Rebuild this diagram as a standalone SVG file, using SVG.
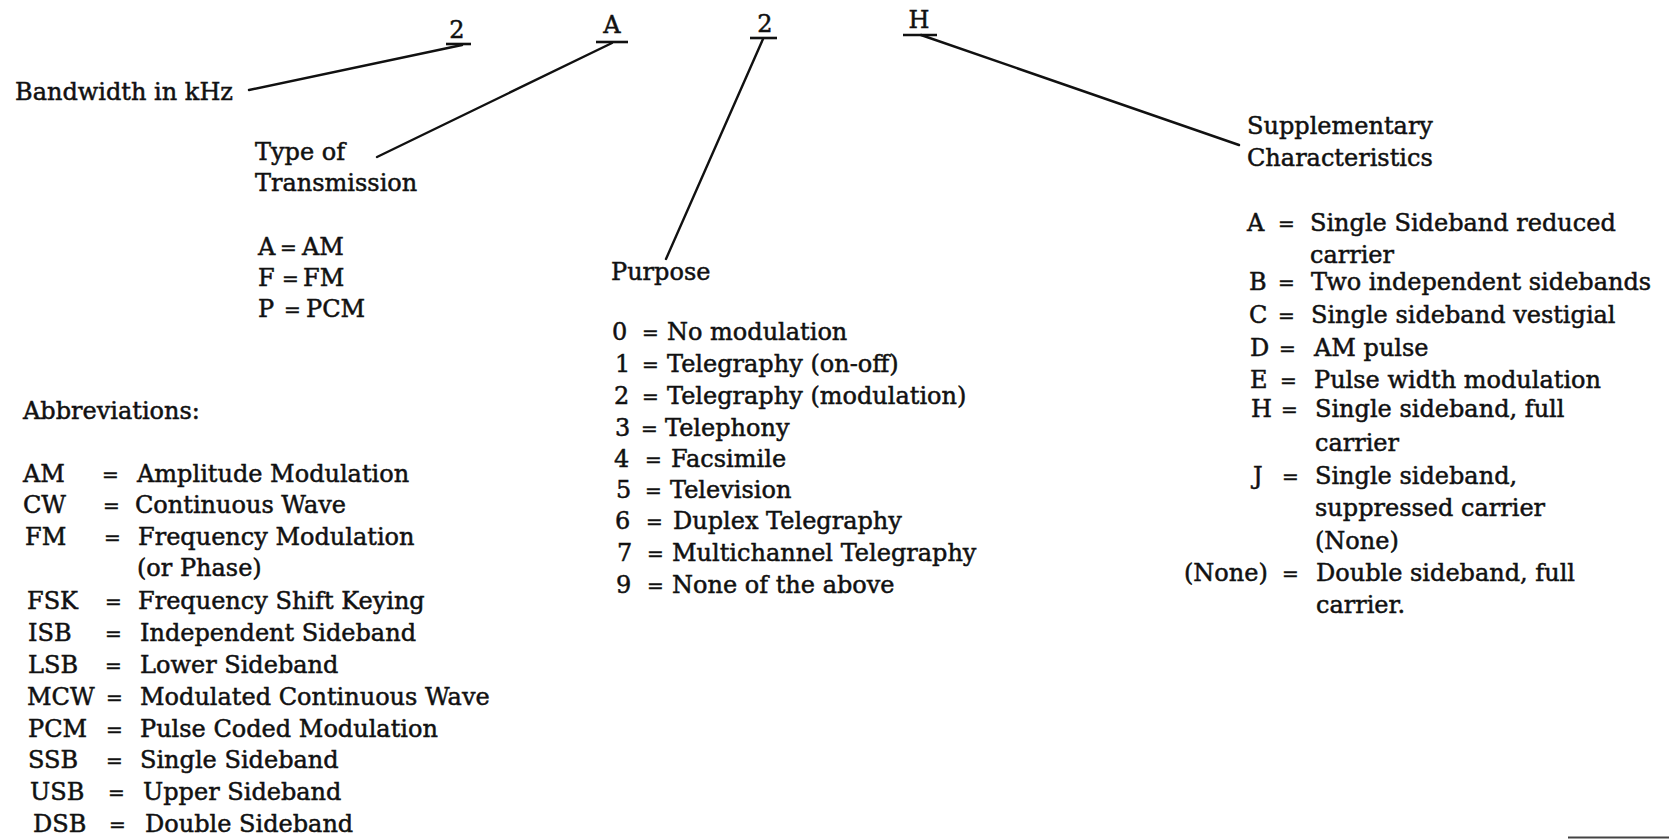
<svg xmlns="http://www.w3.org/2000/svg" width="1669" height="839" viewBox="0 0 1669 839">
<style>
text{font-family:"DejaVu Serif","Liberation Serif",serif;font-size:24px;fill:#111;stroke:#111;stroke-width:0.5}
.eq{font-size:20px}
.ln{stroke:#111;stroke-width:2.4;fill:none;stroke-linecap:round}
.ul{stroke:#111;stroke-width:2.6}
</style>
<rect width="1669" height="839" fill="#fff"/>
<g id="code">
<text x="457" y="38" text-anchor="middle">2</text>
<line class="ul" x1="446" y1="44" x2="471" y2="44"/>
<text x="612" y="33" text-anchor="middle">A</text>
<line class="ul" x1="596" y1="42" x2="628" y2="42"/>
<text x="765" y="32" text-anchor="middle">2</text>
<line class="ul" x1="750" y1="38" x2="777" y2="38"/>
<text x="919" y="28" text-anchor="middle">H</text>
<line class="ul" x1="903" y1="35" x2="937" y2="35"/>
</g>
<g id="connectors">
<path class="ln" d="M249 90 L462 45"/>
<path class="ln" d="M377 157 L612 43"/>
<path class="ln" d="M666 259 L763 39"/>
<path class="ln" d="M1239 145 L921 35"/>
</g>
<g id="bandwidth">
<text x="15" y="100">Bandwidth in kHz</text>
</g>
<g id="type">
<text x="255" y="160">Type of</text>
<text x="255" y="191">Transmission</text>
<text y="255"><tspan x="258">A</tspan><tspan class="eq" x="280">=</tspan><tspan x="302">AM</tspan></text>
<text y="286"><tspan x="258">F</tspan><tspan class="eq" x="282">=</tspan><tspan x="303">FM</tspan></text>
<text y="317"><tspan x="258">P</tspan><tspan class="eq" x="284">=</tspan><tspan x="306">PCM</tspan></text>
</g>
<g id="purpose">
<text x="611" y="280">Purpose</text>
<text y="340"><tspan x="612">0</tspan><tspan class="eq" x="642">=</tspan><tspan x="667">No modulation</tspan></text>
<text y="372"><tspan x="615">1</tspan><tspan class="eq" x="642">=</tspan><tspan x="667">Telegraphy (on-off)</tspan></text>
<text y="404"><tspan x="614">2</tspan><tspan class="eq" x="642">=</tspan><tspan x="667">Telegraphy (modulation)</tspan></text>
<text y="436"><tspan x="615">3</tspan><tspan class="eq" x="641">=</tspan><tspan x="665">Telephony</tspan></text>
<text y="467"><tspan x="614">4</tspan><tspan class="eq" x="645">=</tspan><tspan x="671">Facsimile</tspan></text>
<text y="498"><tspan x="616">5</tspan><tspan class="eq" x="645">=</tspan><tspan x="670">Television</tspan></text>
<text y="529"><tspan x="615">6</tspan><tspan class="eq" x="646">=</tspan><tspan x="673">Duplex Telegraphy</tspan></text>
<text y="561"><tspan x="617">7</tspan><tspan class="eq" x="647">=</tspan><tspan x="672">Multichannel Telegraphy</tspan></text>
<text y="593"><tspan x="616">9</tspan><tspan class="eq" x="647">=</tspan><tspan x="672">None of the above</tspan></text>
</g>
<g id="supplementary">
<text x="1247" y="134">Supplementary</text>
<text x="1247" y="166">Characteristics</text>
<text y="231"><tspan x="1247">A</tspan><tspan class="eq" x="1278">=</tspan><tspan x="1310">Single Sideband reduced</tspan></text>
<text x="1310" y="263">carrier</text>
<text y="290"><tspan x="1249">B</tspan><tspan class="eq" x="1278">=</tspan><tspan x="1311">Two independent sidebands</tspan></text>
<text y="323"><tspan x="1249">C</tspan><tspan class="eq" x="1278">=</tspan><tspan x="1311">Single sideband vestigial</tspan></text>
<text y="356"><tspan x="1250">D</tspan><tspan class="eq" x="1279">=</tspan><tspan x="1314">AM pulse</tspan></text>
<text y="388"><tspan x="1250">E</tspan><tspan class="eq" x="1280">=</tspan><tspan x="1314">Pulse width modulation</tspan></text>
<text y="417"><tspan x="1251">H</tspan><tspan class="eq" x="1281">=</tspan><tspan x="1315">Single sideband, full</tspan></text>
<text x="1315" y="451">carrier</text>
<text y="484"><tspan x="1253">J</tspan><tspan class="eq" x="1282">=</tspan><tspan x="1315">Single sideband,</tspan></text>
<text x="1315" y="516">suppressed carrier</text>
<text x="1315" y="549">(None)</text>
<text y="581"><tspan x="1184">(None)</tspan><tspan class="eq" x="1282">=</tspan><tspan x="1316">Double sideband, full</tspan></text>
<text x="1316" y="613">carrier.</text>
</g>
<g id="abbreviations">
<text x="23" y="419">Abbreviations:</text>
<text y="482"><tspan x="23">AM</tspan><tspan class="eq" x="102">=</tspan><tspan x="137">Amplitude Modulation</tspan></text>
<text y="513"><tspan x="23">CW</tspan><tspan class="eq" x="103">=</tspan><tspan x="135">Continuous Wave</tspan></text>
<text y="545"><tspan x="25">FM</tspan><tspan class="eq" x="104">=</tspan><tspan x="138">Frequency Modulation</tspan></text>
<text x="137" y="576">(or Phase)</text>
<text y="609"><tspan x="27">FSK</tspan><tspan class="eq" x="105">=</tspan><tspan x="138">Frequency Shift Keying</tspan></text>
<text y="641"><tspan x="28">ISB</tspan><tspan class="eq" x="105">=</tspan><tspan x="140">Independent Sideband</tspan></text>
<text y="673"><tspan x="28">LSB</tspan><tspan class="eq" x="105">=</tspan><tspan x="140">Lower Sideband</tspan></text>
<text y="705"><tspan x="27">MCW</tspan><tspan class="eq" x="106">=</tspan><tspan x="140">Modulated Continuous Wave</tspan></text>
<text y="737"><tspan x="28">PCM</tspan><tspan class="eq" x="106">=</tspan><tspan x="140">Pulse Coded Modulation</tspan></text>
<text y="768"><tspan x="28">SSB</tspan><tspan class="eq" x="106">=</tspan><tspan x="140">Single Sideband</tspan></text>
<text y="800"><tspan x="30">USB</tspan><tspan class="eq" x="108">=</tspan><tspan x="143">Upper Sideband</tspan></text>
<text y="832"><tspan x="33">DSB</tspan><tspan class="eq" x="109">=</tspan><tspan x="145">Double Sideband</tspan></text>
</g>
<line x1="1568" y1="837.5" x2="1669" y2="837.5" stroke="#444" stroke-width="2"/>
</svg>
